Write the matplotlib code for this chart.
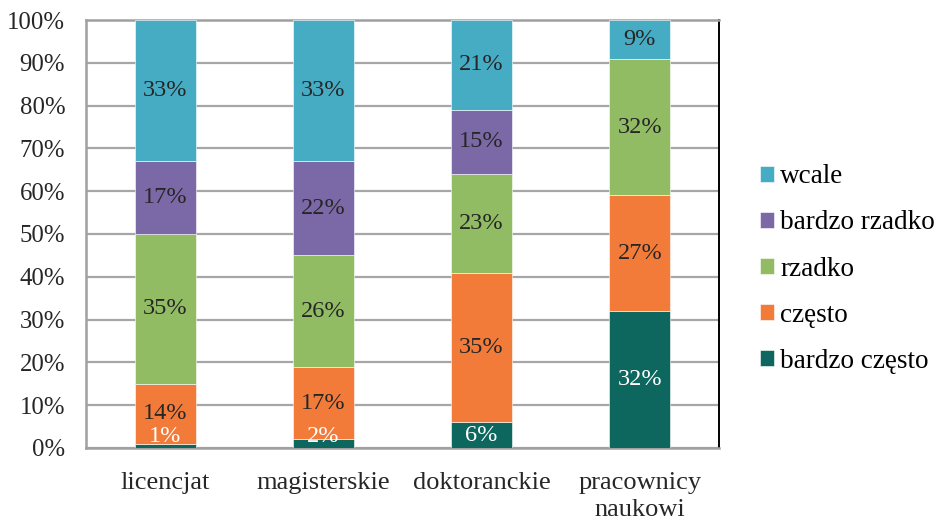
import matplotlib.pyplot as plt
import numpy as np

categories = ['licencjat', 'magisterskie', 'doktoranckie', 'pracownicy\nnaukowi']
series = ['bardzo często', 'często', 'rzadko', 'bardzo rzadko', 'wcale']
bardzo_czesto = [1, 2, 6, 32]
czesto = [14, 17, 35, 27]
rzadko = [35, 26, 23, 32]
bardzo_rzadko = [17, 22, 15, 0]
wcale = [33, 33, 21, 9]

values = [bardzo_czesto, czesto, rzadko, bardzo_rzadko, wcale]
colors = ['#0E675F', '#F27B3A', '#91BC63', '#7B68A6', '#46ACC4']
label_colors = ['white', '#262626', '#262626', '#262626', '#262626']

plt.rcParams['font.family'] = ['Liberation Serif', 'DejaVu Serif']

fig = plt.figure(figsize=(9.38, 5.2), dpi=100)
ax = fig.add_axes([0.0917, 0.1385, 0.6748, 0.823])

x = np.arange(len(categories))
bottom = np.zeros(len(categories))
handles = []
for name, vals, col, lc in zip(series, values, colors, label_colors):
    vals = np.array(vals, dtype=float)
    b = ax.bar(x, vals, 0.385, bottom=bottom, color=col, label=name,
               edgecolor='white', linewidth=0.4, zorder=3)
    handles.append(b)
    for xi, v, b0 in zip(x, vals, bottom):
        if v <= 0:
            continue
        yc = max(b0 + v / 2, 2.6)
        ax.text(xi, yc, f'{int(v)}%', ha='center', va='center',
                color=lc, fontsize=17.5, zorder=4)
    bottom += vals

ax.set_xlim(-0.5, len(categories) - 0.5)
ax.set_ylim(0, 100)
ax.set_yticks(np.arange(0, 101, 10))
ax.set_yticklabels([f'{t}%' for t in range(0, 101, 10)], fontsize=17.8, color='#262626')
ax.set_xticks(x)
ax.set_xticklabels(categories, fontsize=19, color='#262626', linespacing=1.3)
ax.tick_params(axis='y', length=0, pad=15)
ax.tick_params(axis='x', length=0, pad=17)
ax.grid(axis='y', color='#A6A6A6', linewidth=1.6, zorder=1)
ax.set_axisbelow(True)
for s in ['left', 'bottom', 'top']:
    ax.spines[s].set_color('#A0A0A0')
    ax.spines[s].set_linewidth(1.8)
ax.spines['right'].set_color('black')
ax.spines['right'].set_linewidth(1.4)

ax.legend(handles[::-1], series[::-1], loc='upper left',
          bbox_to_anchor=(0.8105, 0.684), bbox_transform=fig.transFigure,
          frameon=False, fontsize=19.5, handlelength=0.52, handleheight=0.52,
          handletextpad=0.22, labelspacing=0.78, borderpad=0, borderaxespad=0)

fig.savefig('out.png', dpi=100)
